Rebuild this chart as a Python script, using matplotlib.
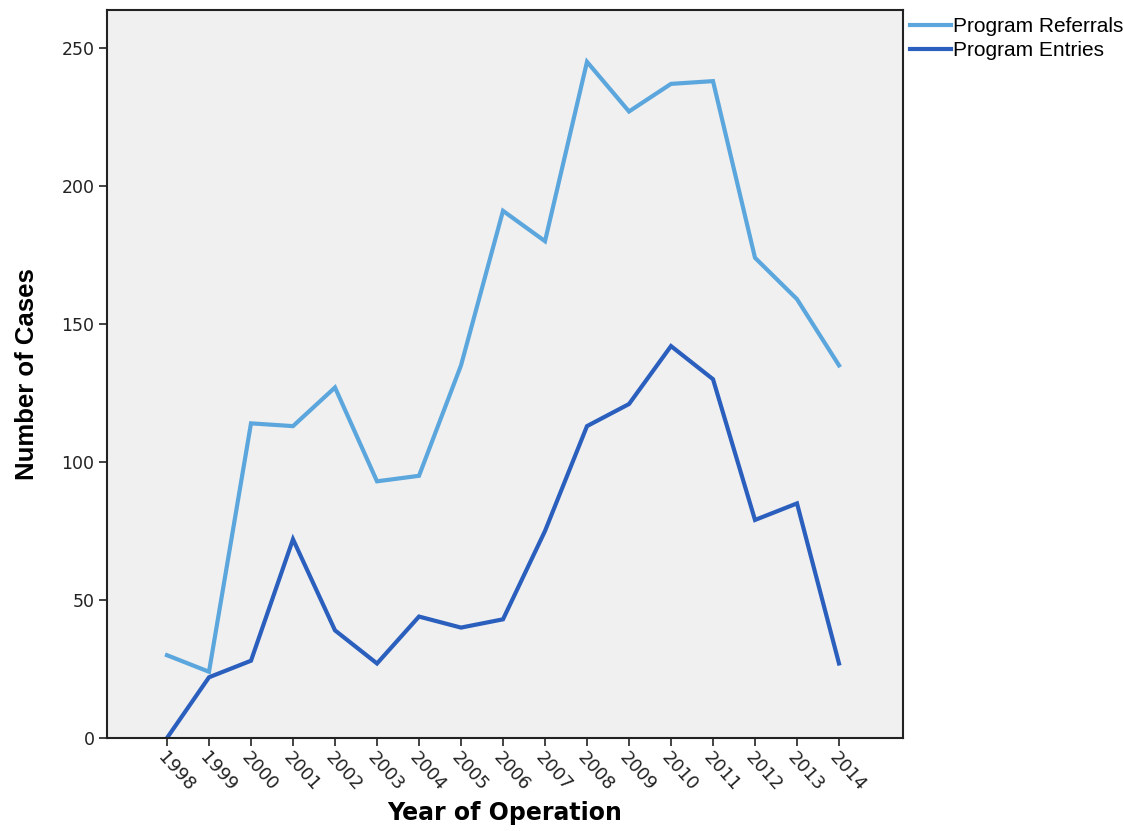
import matplotlib
matplotlib.use("Agg")
import matplotlib.pyplot as plt

years = list(range(1998, 2015))
year_labels = [str(y) for y in years]
referrals = [30, 24, 114, 113, 127, 93, 95, 135, 191, 180, 245, 227, 237, 238, 174, 159, 135]
entries = [0, 22, 28, 72, 39, 27, 44, 40, 43, 75, 113, 121, 142, 130, 79, 85, 27]
y_ticks = [0, 50, 100, 150, 200, 250]

plt.rcParams['font.family'] = ['Liberation Sans', 'DejaVu Sans']

fig = plt.figure(figsize=(11.23, 8.31), dpi=100)
ax = fig.add_axes([107/1123, 93/831, (903-107)/1123, (738-10)/831])
ax.set_facecolor('#f0f0f0')

ax.plot(years, referrals, color='#5ba6dd', lw=3, label='Program Referrals', solid_joinstyle='miter')
ax.plot(years, entries, color='#2b5fbe', lw=3, label='Program Entries', solid_joinstyle='miter')

ax.set_xlim(1998 - 60/42, 2014 + 64/42)
ax.set_ylim(0, (738-10)/2.76)
ax.set_yticks(y_ticks)
ax.set_xticks(years)
ax.set_xticklabels(year_labels, rotation=-48, ha='left', va='top', rotation_mode='anchor',
                   fontsize=13, family=['DejaVu Sans'])
for lbl in ax.get_yticklabels():
    lbl.set_family(['DejaVu Sans'])
ax.tick_params(axis='y', labelsize=12.5, length=6, width=1.2, colors='#222222', pad=3)
ax.tick_params(axis='x', length=6, width=1.2, colors='#222222', pad=2)
for s in ax.spines.values():
    s.set_color('#222222')
    s.set_linewidth(1.5)

ax.set_xlabel('Year of Operation', fontsize=17, fontweight='bold', family=['DejaVu Sans'], labelpad=4)
ax.set_ylabel('Number of Cases', fontsize=18.5, fontweight='bold', labelpad=16)

leg = ax.legend(loc='upper left', bbox_to_anchor=(1.0, 1.0), frameon=False,
                borderaxespad=0, handlelength=1.95, handletextpad=0.1,
                labelspacing=0.25, fontsize=15, borderpad=0.35)

fig.savefig('out.png', dpi=100, facecolor='white')
